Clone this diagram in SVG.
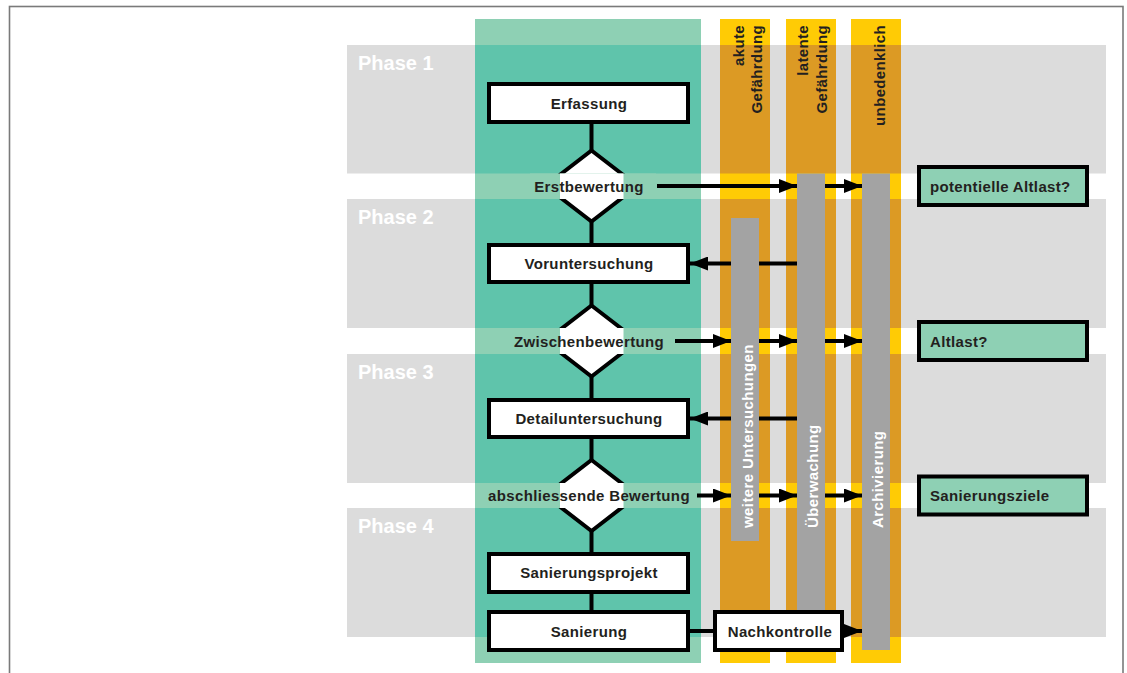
<svg xmlns="http://www.w3.org/2000/svg" width="1127" height="673" viewBox="0 0 1127 673">
<defs>
<style>
.t{font-family:"Liberation Sans",Arial,sans-serif;font-weight:bold;font-size:15px;letter-spacing:0.35px;fill:#231f20}
.c{text-anchor:middle}
.ph{font-family:"Liberation Sans",Arial,sans-serif;font-weight:bold;font-size:20px;fill:#ffffff}
.wt{font-family:"Liberation Sans",Arial,sans-serif;font-weight:bold;font-size:15px;letter-spacing:0.4px;fill:#ffffff}
.band{fill:#dcdcdc}
.gl{fill:#8ed0b4}
.gd{fill:#5fc4ab}
.yl{fill:#ffcb05}
.or{fill:#dc9a24}
.bar{fill:#a3a3a3}
.box{fill:#ffffff;stroke:#000;stroke-width:4}
.wh{fill:#ffffff}
.gbox{fill:#8ed0b4;stroke:#000;stroke-width:4}
.ln{fill:none;stroke:#000;stroke-width:4}
.ar{fill:none;stroke:#000;stroke-width:4;marker-end:url(#ah)}
</style>
<marker id="ah" markerUnits="userSpaceOnUse" markerWidth="19" markerHeight="14" refX="18" refY="7" orient="auto">
<path d="M0,0 L18,7 L0,14 z" fill="#000"/>
</marker>
</defs>
<rect width="1127" height="673" fill="#ffffff"/>
<rect x="9.5" y="6.5" width="1113.5" height="700" fill="none" stroke="#7a7a7a" stroke-width="1.6"/>
<g id="background">
<rect class="band" x="347" y="45" width="759" height="128.5"/>
<rect class="band" x="347" y="199" width="759" height="129"/>
<rect class="band" x="347" y="354" width="759" height="129"/>
<rect class="band" x="347" y="508" width="759" height="129"/>
<text class="ph" x="358" y="70">Phase 1</text>
<text class="ph" x="358" y="224">Phase 2</text>
<text class="ph" x="358" y="379">Phase 3</text>
<text class="ph" x="358" y="533">Phase 4</text>
<rect class="gl" x="475" y="19" width="226" height="644"/>
<rect class="gd" x="475" y="45" width="226" height="128.5"/>
<rect class="gd" x="475" y="199" width="226" height="129"/>
<rect class="gd" x="475" y="354" width="226" height="129"/>
<rect class="gd" x="475" y="508" width="226" height="129"/>
<g id="col-akut">
<rect class="yl" x="720" y="19" width="50" height="644"/>
<rect class="or" x="720" y="45" width="50" height="128.5"/>
<rect class="or" x="720" y="199" width="50" height="129"/>
<rect class="or" x="720" y="354" width="50" height="129"/>
<rect class="or" x="720" y="508" width="50" height="129"/>
<text class="t" text-anchor="end" transform="translate(743.5,25) rotate(-90)">akute</text>
<text class="t" text-anchor="end" transform="translate(762,25) rotate(-90)">Gefährdung</text>
</g>
<g id="col-latent">
<rect class="yl" x="786" y="19" width="50" height="644"/>
<rect class="or" x="786" y="45" width="50" height="128.5"/>
<rect class="or" x="786" y="199" width="50" height="129"/>
<rect class="or" x="786" y="354" width="50" height="129"/>
<rect class="or" x="786" y="508" width="50" height="129"/>
<text class="t" text-anchor="end" transform="translate(808,25) rotate(-90)">latente</text>
<text class="t" text-anchor="end" transform="translate(827,25) rotate(-90)">Gefährdung</text>
</g>
<g id="col-unbedenklich">
<rect class="yl" x="851" y="19" width="50" height="644"/>
<rect class="or" x="851" y="45" width="50" height="128.5"/>
<rect class="or" x="851" y="199" width="50" height="129"/>
<rect class="or" x="851" y="354" width="50" height="129"/>
<rect class="or" x="851" y="508" width="50" height="129"/>
<text class="t" text-anchor="end" transform="translate(885,25) rotate(-90)">unbedenklich</text>
</g>
</g>
<g id="connectors">
<path class="ln" d="M591.5,122 V612"/>
<path class="ar" d="M657,186 H797"/>
<path class="ar" d="M825,186 H862"/>
<path class="ar" d="M797,263.5 H690"/>
<path class="ar" d="M675,341 H731"/>
<path class="ar" d="M759,341 H797"/>
<path class="ar" d="M825,341 H862"/>
<path class="ar" d="M797,418.5 H690"/>
<path class="ar" d="M697,495.5 H731"/>
<path class="ar" d="M759,495.5 H797"/>
<path class="ar" d="M825,495.5 H862"/>
<path class="ln" d="M688,631 H715"/>
<path class="ar" d="M842,631 H862"/>
</g>
<g id="bar-weitere">
<rect class="bar" x="731" y="218" width="28" height="323"/>
<text class="wt" transform="translate(752.5,528) rotate(-90)">weitere Untersuchungen</text>
</g>
<g id="bar-ueberwachung">
<rect class="bar" x="797" y="173.5" width="28" height="476.5"/>
<text class="wt" transform="translate(818,528) rotate(-90)">Überwachung</text>
</g>
<g id="bar-archivierung">
<rect class="bar" x="862" y="173.5" width="28" height="476.5"/>
<text class="wt" transform="translate(883,528) rotate(-90)">Archivierung</text>
</g>
<g id="erfassung">
<rect class="box" x="489" y="84" width="199" height="38"/>
<text class="t c" x="589" y="108.5">Erfassung</text>
</g>
<g id="erstbewertung">
<path class="box" d="M591.5,150.5 L637.5,186 L591.5,221.5 L545.5,186 Z"/>
<rect class="gl" x="530" y="173.5" width="126" height="25.5"/>
<rect class="wh" x="560" y="173.5" width="63.5" height="25.5"/>
<text class="t c" x="589" y="191.5">Erstbewertung</text>
</g>
<g id="voruntersuchung">
<rect class="box" x="489" y="245" width="199" height="37"/>
<text class="t c" x="589" y="268.5">Voruntersuchung</text>
</g>
<g id="zwischenbewertung">
<path class="box" d="M591.5,305.5 L637.5,341 L591.5,376.5 L545.5,341 Z"/>
<rect class="gl" x="505" y="328" width="168" height="26"/>
<rect class="wh" x="560" y="328" width="63.5" height="26"/>
<text class="t c" x="589" y="346.5">Zwischenbewertung</text>
</g>
<g id="detailuntersuchung">
<rect class="box" x="489" y="400" width="199" height="37"/>
<text class="t c" x="589" y="423.5">Detailuntersuchung</text>
</g>
<g id="abschliessende-bewertung">
<path class="box" d="M591.5,460 L637.5,495.5 L591.5,531 L545.5,495.5 Z"/>
<rect class="gl" x="480" y="483" width="215" height="25"/>
<rect class="wh" x="560" y="483" width="63.5" height="25"/>
<text class="t c" x="589" y="501">abschliessende Bewertung</text>
</g>
<g id="sanierungsprojekt">
<rect class="box" x="489" y="554" width="199" height="38"/>
<text class="t c" x="589" y="578">Sanierungsprojekt</text>
</g>
<g id="sanierung">
<rect class="box" x="489" y="612" width="199" height="38"/>
<text class="t c" x="589" y="636.5">Sanierung</text>
</g>
<g id="nachkontrolle">
<rect class="box" x="715" y="612" width="127" height="38"/>
<text class="t c" x="780" y="636.5">Nachkontrolle</text>
</g>
<g id="potentielle-altlast">
<rect class="gbox" x="919" y="167" width="168" height="38"/>
<text class="t" x="930" y="191.5">potentielle Altlast?</text>
</g>
<g id="altlast">
<rect class="gbox" x="919" y="322" width="168" height="38"/>
<text class="t" x="930" y="346.5">Altlast?</text>
</g>
<g id="sanierungsziele">
<rect class="gbox" x="919" y="476.5" width="168" height="38"/>
<text class="t" x="930" y="501">Sanierungsziele</text>
</g>
</svg>
